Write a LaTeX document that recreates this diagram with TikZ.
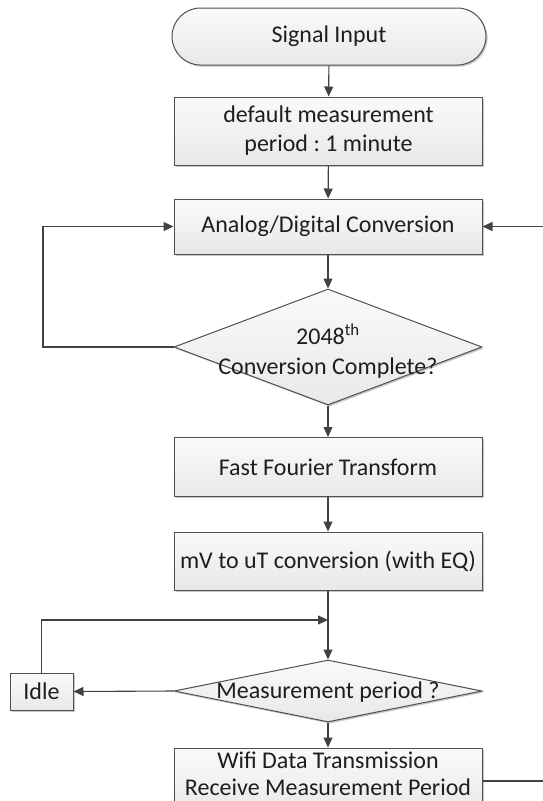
\documentclass[tikz,border=0pt]{standalone}
\usepackage{fontspec}
\setmainfont{Carlito}
\usetikzlibrary{shapes.geometric,shapes.misc,arrows.meta,shadows}

\definecolor{edge}{HTML}{505050}
\definecolor{wire}{HTML}{424242}
\definecolor{ink}{HTML}{1E1E1E}

\tikzset{
  base/.style={draw=edge, line width=1pt, top color=black!2, bottom color=black!9,
    text=ink, font=\fontsize{24}{29}\selectfont\frenchspacing, inner sep=0pt, align=center,
    drop shadow={shadow xshift=1.6pt, shadow yshift=-1.6pt, fill=black, opacity=0.22}},
  procbox/.style={base, rectangle, minimum width=308pt},
  termbox/.style={base, rounded rectangle, minimum width=314pt, minimum height=57pt},
  decision/.style={base, diamond, minimum width=308pt},
  label/.style={text=ink, font=\fontsize{24}{29}\selectfont\frenchspacing, align=center, inner sep=0pt},
  flow/.style={draw=wire, line width=1.1pt, -{Triangle[length=10pt,width=9pt]}},
  plain/.style={draw=wire, line width=1.1pt}
}

\begin{document}
\begin{tikzpicture}[x=1pt, y=-1pt]
  \path[use as bounding box] (0,0) rectangle (543,801);
  \clip (0,0) rectangle (543,801);

  % main column
  \node[termbox] (sig) at (329,36.5) {Signal Input};
  \node[procbox, minimum height=68pt] (dflt) at (328.5,131) {default measurement\\period : 1 minute};
  \node[procbox, minimum height=55pt] (adc) at (328,226.5) {Analog/Digital Conversion};
  \node[decision, minimum height=116pt] (cmp) at (328,347) {};
  \node[label] (cmptxt) at (328,351) {2048\textsuperscript{th}\\[1pt]Conversion Complete?};
  \node[procbox, minimum height=59pt] (fft) at (328,467) {Fast Fourier Transform};
  \node[procbox, minimum height=58pt] (conv) at (328,561) {mV to uT conversion (with EQ)};
  \node[decision, minimum height=62pt] (per) at (328,691) {};
  \node[label] (pertxt) at (328,692) {Measurement period ?};
  \node[procbox, minimum height=66pt] (wifi) at (328,781) {};
  \node[label, font=\fontsize{24}{27}\selectfont] (wifitxt) at (328,773.5)
    {Wifi Data Transmission\\Receive Measurement Period};
  \node[procbox, minimum width=63pt, minimum height=37pt] (idle) at (41.5,691.5) {Idle};

  % loop helpers
  \coordinate (loopL) at (43,226.5);
  \coordinate (rin) at (543,226.5);
  \coordinate (join) at (328,620);
  \coordinate (rout) at (543,781);

  % connectors
  \draw[flow] (sig) -- (dflt);
  \draw[flow] (dflt) -- (adc);
  \draw[flow] (adc) -- (cmp.north);
  \draw[flow] (cmp.west) -| (loopL) -- (adc.west);
  \draw[flow] (rin) -- (adc.east);
  \draw[flow] (cmp.south) -- (fft);
  \draw[flow] (fft) -- (conv);
  \draw[flow] (conv) -- (per.north);
  \draw[flow] (idle.north) |- (join);
  \draw[flow] (per.west) -- (idle.east);
  \draw[flow] (per.south) -- (wifi);
  \draw[plain] (wifi.east) -- (rout);
\end{tikzpicture}
\end{document}
